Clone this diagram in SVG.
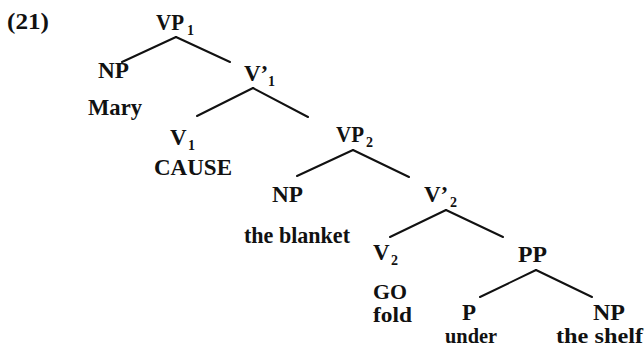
<svg xmlns="http://www.w3.org/2000/svg" width="644" height="348" viewBox="0 0 644 348">
<style>
text{font-family:"Liberation Serif","Times New Roman",serif;font-weight:bold;font-size:23px;fill:#111}
.sub{font-size:14px}
.sm{font-size:20px}
.edge{stroke:#111;stroke-width:2;fill:none;stroke-linecap:round}
</style>
<rect width="644" height="348" fill="#fff"/>
<text x="7" y="29" textLength="42" lengthAdjust="spacingAndGlyphs">(21)</text>
<g id="connectors">
<line class="edge" x1="176" y1="37" x2="122" y2="62"/>
<line class="edge" x1="176" y1="37" x2="230" y2="62"/>
<line class="edge" x1="253" y1="88" x2="197" y2="116"/>
<line class="edge" x1="253" y1="88" x2="308" y2="117"/>
<line class="edge" x1="353" y1="150" x2="297" y2="176"/>
<line class="edge" x1="353" y1="150" x2="409" y2="177"/>
<line class="edge" x1="446" y1="210" x2="390" y2="237"/>
<line class="edge" x1="446" y1="210" x2="503" y2="237"/>
<line class="edge" x1="536" y1="270" x2="480" y2="297"/>
<line class="edge" x1="536" y1="270" x2="592" y2="297"/>
</g>
<g id="VP1"><text x="156" y="30" textLength="28" lengthAdjust="spacingAndGlyphs">VP</text><text class="sub" x="187" y="35">1</text></g>
<g id="NP1"><text x="98" y="78" textLength="31" lengthAdjust="spacingAndGlyphs">NP</text><text x="88" y="115" textLength="54" lengthAdjust="spacingAndGlyphs">Mary</text></g>
<g id="Vbar1"><text x="244" y="81">V’</text><text class="sub" x="268" y="86">1</text></g>
<g id="V1"><text x="170" y="145">V</text><text class="sub" x="188" y="150">1</text><text x="154" y="175" textLength="78" lengthAdjust="spacingAndGlyphs">CAUSE</text></g>
<g id="VP2"><text x="336" y="142" textLength="28" lengthAdjust="spacingAndGlyphs">VP</text><text class="sub" x="366" y="147">2</text></g>
<g id="NP2"><text x="272" y="202" textLength="31" lengthAdjust="spacingAndGlyphs">NP</text><text x="244" y="243" textLength="106" lengthAdjust="spacingAndGlyphs">the blanket</text></g>
<g id="Vbar2"><text x="424" y="202">V’</text><text class="sub" x="450" y="207">2</text></g>
<g id="V2"><text x="373" y="260">V</text><text class="sub" x="391" y="265">2</text><text class="sm" x="373" y="299" textLength="34" lengthAdjust="spacingAndGlyphs">GO</text><text class="sm" x="373" y="322" textLength="39" lengthAdjust="spacingAndGlyphs">fold</text></g>
<g id="PP"><text x="518" y="262" textLength="29" lengthAdjust="spacingAndGlyphs">PP</text></g>
<g id="P"><text x="462" y="320">P</text><text class="sm" x="445" y="343" textLength="52" lengthAdjust="spacingAndGlyphs">under</text></g>
<g id="NP3"><text x="593" y="320" textLength="32" lengthAdjust="spacingAndGlyphs">NP</text><text class="sm" x="556" y="343" textLength="87" lengthAdjust="spacingAndGlyphs">the shelf</text></g>
</svg>
